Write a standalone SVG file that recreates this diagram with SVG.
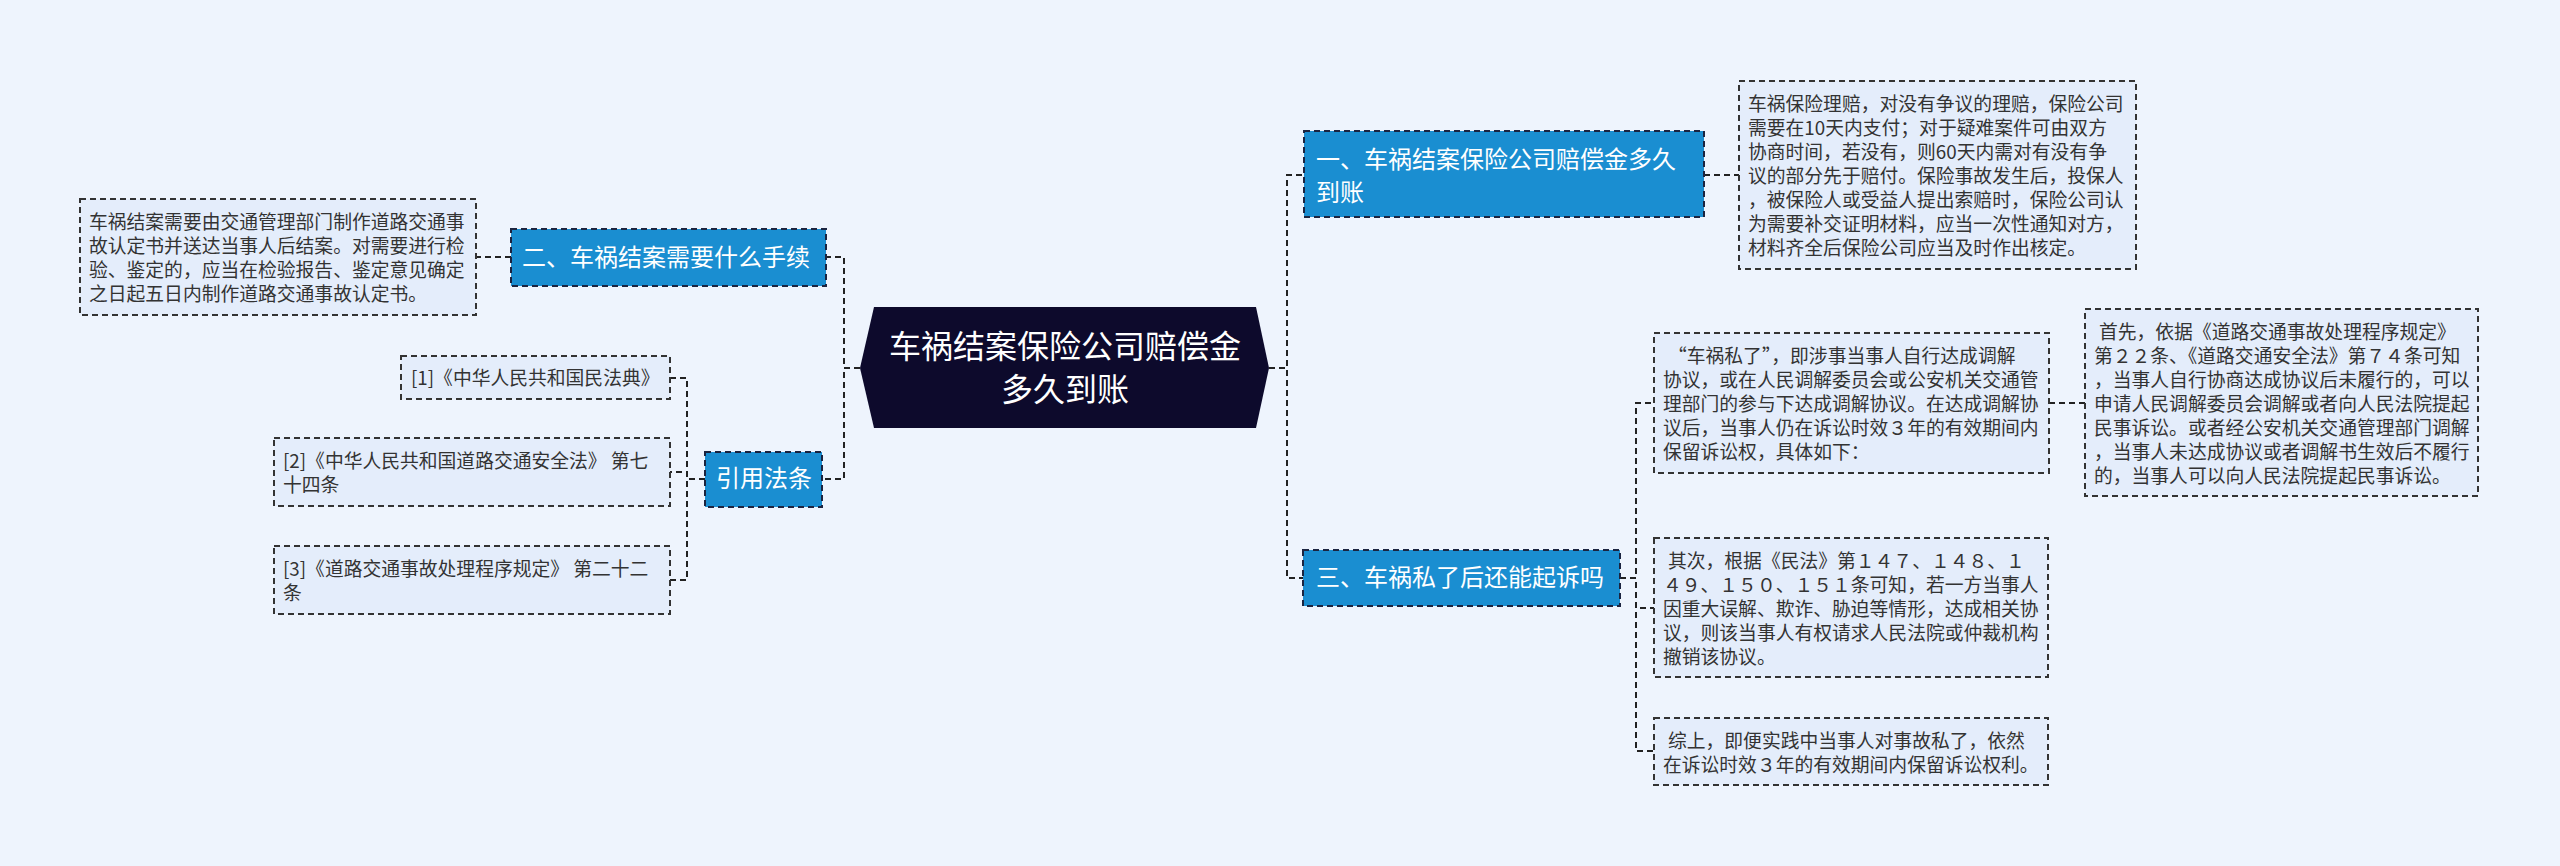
<svg xmlns="http://www.w3.org/2000/svg" width="2560" height="866" viewBox="0 0 2560 866">
<style>
.bg{fill:#EEF4FD}
.conn{fill:none;stroke:#222;stroke-width:2;stroke-dasharray:6 4}
.box{fill:#E4EDFB;stroke:#333;stroke-width:2;stroke-dasharray:6 4}
.topic{fill:#1A8ED1;stroke:#1B2440;stroke-width:2;stroke-dasharray:6 4}
.root{fill:#0D0A2C}
.t{font-family:"Noto Sans CJK SC","Noto Sans",sans-serif;font-size:18.8px;fill:#333}
.tt{font-family:"Noto Sans CJK SC","Noto Sans",sans-serif;font-size:24px;fill:#fff}
.rt{font-family:"Noto Sans CJK SC","Noto Sans",sans-serif;font-size:32px;fill:#fff;text-anchor:middle}
</style>
<rect class="bg" x="0" y="0" width="2560" height="866"/>
<g id="connectors">
<path class="conn" d="M860 368 H844 V257 H826"/>
<path class="conn" d="M860 368 H844 V479 H822"/>
<path class="conn" d="M1269 368 H1287 V175 H1304"/>
<path class="conn" d="M1269 368 H1287 V578 H1303"/>
<path class="conn" d="M1704 175 H1739"/>
<path class="conn" d="M511 257 H476"/>
<path class="conn" d="M705 479 H687 V378 H670"/>
<path class="conn" d="M705 479 H687 V472 H670"/>
<path class="conn" d="M705 479 H687 V580 H670"/>
<path class="conn" d="M1620 578 H1636 V403 H1654"/>
<path class="conn" d="M1620 578 H1636 V608 H1654"/>
<path class="conn" d="M1620 578 H1636 V751 H1654"/>
<path class="conn" d="M2049 403 H2085"/>
</g>
<g id="root">
<polygon class="root" points="860,368 874,307 1256,307 1269,368 1256,428 874,428"/>
<text class="rt" x="1065" y="358">车祸结案保险公司赔偿金</text>
<text class="rt" x="1065" y="401">多久到账</text>
</g>
<g id="topic1">
<rect class="topic" x="1304" y="131" width="400" height="86"/>
<text class="tt" x="1316" y="168">一、车祸结案保险公司赔偿金多久</text>
<text class="tt" x="1316" y="201">到账</text>
</g>
<g id="detail1">
<rect class="box" x="1739" y="81" width="397" height="188"/>
<text class="t" x="1748" y="111">车祸保险理赔，对没有争议的理赔，保险公司</text>
<text class="t" x="1748" y="135">需要在10天内支付；对于疑难案件可由双方</text>
<text class="t" x="1748" y="159">协商时间，若没有，则60天内需对有没有争</text>
<text class="t" x="1748" y="183">议的部分先于赔付。保险事故发生后，投保人</text>
<text class="t" x="1748" y="207">，被保险人或受益人提出索赔时，保险公司认</text>
<text class="t" x="1748" y="231">为需要补交证明材料，应当一次性通知对方，</text>
<text class="t" x="1748" y="255">材料齐全后保险公司应当及时作出核定。</text>
</g>
<g id="topic2">
<rect class="topic" x="511" y="229" width="315" height="57"/>
<text class="tt" x="522" y="266">二、车祸结案需要什么手续</text>
</g>
<g id="detail2">
<rect class="box" x="80" y="199" width="396" height="116"/>
<text class="t" x="89" y="229">车祸结案需要由交通管理部门制作道路交通事</text>
<text class="t" x="89" y="253">故认定书并送达当事人后结案。对需要进行检</text>
<text class="t" x="89" y="277">验、鉴定的，应当在检验报告、鉴定意见确定</text>
<text class="t" x="89" y="301">之日起五日内制作道路交通事故认定书。</text>
</g>
<g id="topic3">
<rect class="topic" x="705" y="452" width="117" height="55"/>
<text class="tt" x="716" y="487">引用法条</text>
</g>
<g id="cite1">
<rect class="box" x="401" y="356" width="269" height="43"/>
<text class="t" x="411" y="385">[1]《中华人民共和国民法典》</text>
</g>
<g id="cite2">
<rect class="box" x="274" y="438" width="396" height="68"/>
<text class="t" x="283" y="468">[2]《中华人民共和国道路交通安全法》 第七</text>
<text class="t" x="283" y="492">十四条</text>
</g>
<g id="cite3">
<rect class="box" x="274" y="546" width="396" height="68"/>
<text class="t" x="283" y="576">[3]《道路交通事故处理程序规定》 第二十二</text>
<text class="t" x="283" y="600">条</text>
</g>
<g id="topic4">
<rect class="topic" x="1303" y="550" width="317" height="56"/>
<text class="tt" x="1316" y="586">三、车祸私了后还能起诉吗</text>
</g>
<g id="detail4a">
<rect class="box" x="1654" y="333" width="395" height="140"/>
<text class="t" x="1668" y="363">“车祸私了”，即涉事当事人自行达成调解</text>
<text class="t" x="1663" y="387">协议，或在人民调解委员会或公安机关交通管</text>
<text class="t" x="1663" y="411">理部门的参与下达成调解协议。在达成调解协</text>
<text class="t" x="1663" y="435">议后，当事人仍在诉讼时效３年的有效期间内</text>
<text class="t" x="1663" y="459">保留诉讼权，具体如下：</text>
</g>
<g id="detail4b">
<rect class="box" x="2085" y="309" width="393" height="187"/>
<text class="t" x="2099" y="339">首先，依据《道路交通事故处理程序规定》</text>
<text class="t" x="2094" y="363">第２２条、《道路交通安全法》第７４条可知</text>
<text class="t" x="2094" y="387">，当事人自行协商达成协议后未履行的，可以</text>
<text class="t" x="2094" y="411">申请人民调解委员会调解或者向人民法院提起</text>
<text class="t" x="2094" y="435">民事诉讼。或者经公安机关交通管理部门调解</text>
<text class="t" x="2094" y="459">，当事人未达成协议或者调解书生效后不履行</text>
<text class="t" x="2094" y="483">的，当事人可以向人民法院提起民事诉讼。</text>
</g>
<g id="detail4c">
<rect class="box" x="1654" y="538" width="394" height="139"/>
<text class="t" x="1668" y="568">其次，根据《民法》第１４７、１４８、１</text>
<text class="t" x="1663" y="592">４９、１５０、１５１条可知，若一方当事人</text>
<text class="t" x="1663" y="616">因重大误解、欺诈、胁迫等情形，达成相关协</text>
<text class="t" x="1663" y="640">议，则该当事人有权请求人民法院或仲裁机构</text>
<text class="t" x="1663" y="664">撤销该协议。</text>
</g>
<g id="detail4d">
<rect class="box" x="1654" y="718" width="394" height="67"/>
<text class="t" x="1668" y="748">综上，即便实践中当事人对事故私了，依然</text>
<text class="t" x="1663" y="772">在诉讼时效３年的有效期间内保留诉讼权利。</text>
</g>
</svg>
